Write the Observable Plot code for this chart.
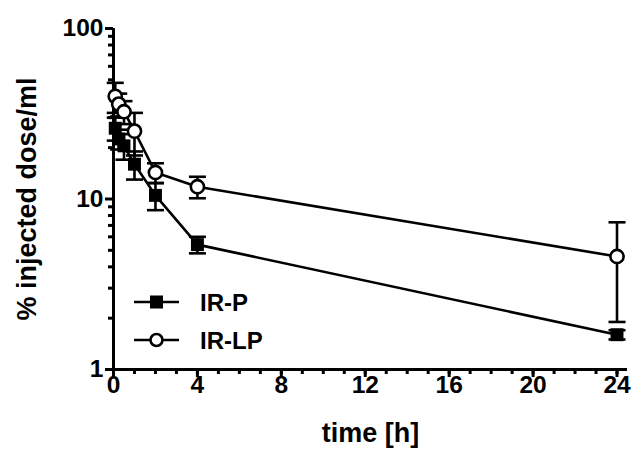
<!DOCTYPE html>
<html>
<head>
<meta charset="utf-8">
<script src="https://cdn.jsdelivr.net/npm/d3@7"></script>
<script src="https://cdn.jsdelivr.net/npm/@observablehq/plot@0.6"></script>
<style>
  html, body { margin: 0; padding: 0; background: white; }
  #wrap { position: relative; width: 634px; height: 452px; }
  #legend { position: absolute; left: 0; top: 0; pointer-events: none; }
</style>
</head>
<body>
<div id="wrap"></div>
<script>
// ---- data ----
const times = [0.083, 0.25, 0.5, 1, 2, 4, 24];
const irP = [26, 22.5, 20.5, 16, 10.5, 5.4, 1.6];
const irPsd = [4, 3, 3.5, 3, 1.9, 0.6, 0.1];
const irLP = [40, 36, 32.5, 25, 14.3, 11.8, 4.6];
const irLPsd = [8, 5.5, 5, 7, 1.9, 1.7, 2.7];
const seriesNames = ["IR-P", "IR-LP"];
const xMajor = [0, 4, 8, 12, 16, 20, 24];
const xMinor = d3.range(0, 25, 1);
const yMajor = [1, 10, 100];
const yMinor = [2, 3, 4, 5, 6, 7, 8, 9, 20, 30, 40, 50, 60, 70, 80, 90];
const xTitle = "time [h]";
const yTitle = "% injected dose/ml";

const P = times.map((t, i) => ({t, v: irP[i], lo: irP[i] - irPsd[i], hi: irP[i] + irPsd[i], s: seriesNames[0]}));
const LP = times.map((t, i) => ({t, v: irLP[i], lo: irLP[i] - irLPsd[i], hi: irLP[i] + irLPsd[i], s: seriesNames[1]}));

const capSymbol = {
  draw(ctx, size) {
    const r = Math.sqrt(size / Math.PI);
    ctx.moveTo(-r, 0);
    ctx.lineTo(r, 0);
  }
};

const SW = 2.6;
const FONT = "'Liberation Sans', Arial, sans-serif";
function errorMarks(data) {
  return [
    Plot.ruleX(data, {x: "t", y1: "lo", y2: "hi", stroke: "black", strokeWidth: SW}),
    Plot.dot(data, {x: "t", y: "lo", symbol: capSymbol, r: 8.5, stroke: "black", strokeWidth: SW, fill: "none"}),
    Plot.dot(data, {x: "t", y: "hi", symbol: capSymbol, r: 8.5, stroke: "black", strokeWidth: SW, fill: "none"})
  ];
}

const chart = Plot.plot({
  width: 634,
  height: 452,
  marginLeft: 113,
  marginRight: 7,
  marginTop: 28,
  marginBottom: 83,
  x: {domain: [0, 24.5]},
  y: {type: "log", domain: [1, 100]},
  style: {fontFamily: FONT, fontWeight: "bold", fontSize: "24px", color: "black", background: "white", overflow: "visible"},
  marks: [
    Plot.axisY({ticks: yMajor, tickSize: 8, tickFormat: () => "", strokeWidth: 3, label: null}),
    Plot.axisY({ticks: yMinor, tickSize: 5, tickFormat: () => "", strokeWidth: 3, label: null}),
    Plot.axisX({ticks: xMajor, tickSize: 8, tickFormat: () => "", strokeWidth: 3, label: null}),
    Plot.axisX({ticks: xMinor, tickSize: 5, tickFormat: () => "", strokeWidth: 3, label: null}),
    // tick labels
    Plot.text(yMajor, {y: d => d, text: d => String(d), frameAnchor: "left", textAnchor: "end", dx: -10, fontSize: 24.5, fontWeight: "bold", fill: "black"}),
    Plot.text(xMajor, {x: d => d, text: d => String(d), frameAnchor: "bottom", lineAnchor: "top", dy: 6, fontSize: 24.5, fontWeight: "bold", fill: "black"}),
    Plot.ruleX([0], {stroke: "black", strokeWidth: 3}),
    Plot.ruleY([1], {stroke: "black", strokeWidth: 3}),
    ...errorMarks(P),
    Plot.line(P, {x: "t", y: "v", stroke: "black", strokeWidth: SW}),
    Plot.dot(P, {x: "t", y: "v", symbol: "square", r: 7.3, fill: "black", stroke: "none"}),
    ...errorMarks(LP),
    Plot.line(LP, {x: "t", y: "v", stroke: "black", strokeWidth: SW}),
    Plot.dot(LP, {x: "t", y: "v", symbol: "circle", r: 6.6, fill: "white", stroke: "black", strokeWidth: SW}),
    Plot.text([yTitle], {frameAnchor: "left", textAnchor: "middle", rotate: -90, dx: -86, fontSize: 27, fontWeight: "bold", fill: "black"}),
    Plot.text([xTitle], {frameAnchor: "bottom", dy: 72, fontSize: 27, fontWeight: "bold", fill: "black"})
  ]
});

const wrap = document.getElementById("wrap");
wrap.appendChild(chart);

// legend overlay
const ns = "http://www.w3.org/2000/svg";
const leg = document.createElementNS(ns, "svg");
leg.setAttribute("id", "legend");
leg.setAttribute("width", 634);
leg.setAttribute("height", 452);
const items = [
  {name: seriesNames[0], y: 302, sym: "square"},
  {name: seriesNames[1], y: 340, sym: "circle"}
];
for (const it of items) {
  const ln = document.createElementNS(ns, "line");
  ln.setAttribute("x1", 134); ln.setAttribute("x2", 179);
  ln.setAttribute("y1", it.y); ln.setAttribute("y2", it.y);
  ln.setAttribute("stroke", "black"); ln.setAttribute("stroke-width", SW);
  leg.appendChild(ln);
  if (it.sym === "square") {
    const r = document.createElementNS(ns, "rect");
    r.setAttribute("x", 156.5 - 6.5); r.setAttribute("y", it.y - 6.5);
    r.setAttribute("width", 13); r.setAttribute("height", 13);
    r.setAttribute("fill", "black");
    leg.appendChild(r);
  } else {
    const c = document.createElementNS(ns, "circle");
    c.setAttribute("cx", 156.5); c.setAttribute("cy", it.y); c.setAttribute("r", 6);
    c.setAttribute("fill", "white"); c.setAttribute("stroke", "black"); c.setAttribute("stroke-width", SW);
    leg.appendChild(c);
  }
  const tx = document.createElementNS(ns, "text");
  tx.setAttribute("x", 200); tx.setAttribute("y", it.y);
  tx.setAttribute("dy", "0.36em");
  tx.setAttribute("font-family", FONT);
  tx.setAttribute("font-weight", "bold");
  tx.setAttribute("font-size", 24);
  tx.textContent = it.name;
  leg.appendChild(tx);
}
wrap.appendChild(leg);
</script>
</body>
</html>
